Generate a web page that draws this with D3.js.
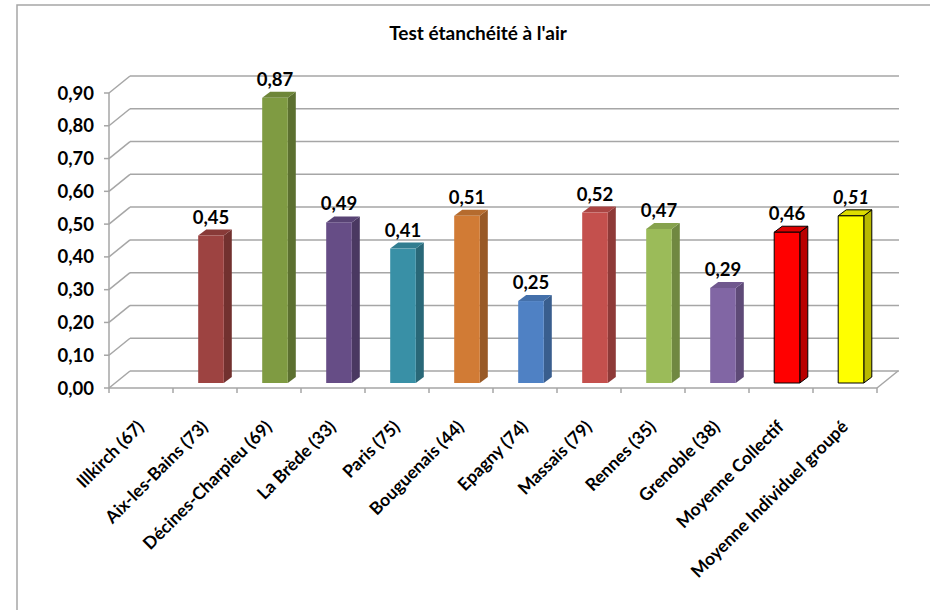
<!DOCTYPE html>
<html>
<head>
<meta charset="utf-8">
<script src="https://cdn.jsdelivr.net/npm/d3@7/dist/d3.min.js"></script>
<style>
body { margin: 0; background: #fff; }
svg { font-family: Lato, "Open Sans", sans-serif; font-weight: bold; }
.grid line { stroke: #a6a6a6; stroke-width: 1.5px; }
</style>
</head>
<body>
<svg width="930" height="610"></svg>
<script>
var categories = ["Illkirch (67)", "Aix-les-Bains (73)", "Décines-Charpieu (69)", "La Brède (33)",
  "Paris (75)", "Bouguenais (44)", "Epagny (74)", "Massais (79)", "Rennes (35)",
  "Grenoble (38)", "Moyenne Collectif", "Moyenne Individuel groupé"];
var values = [null, 0.45, 0.87, 0.49, 0.41, 0.51, 0.25, 0.52, 0.47, 0.29, 0.46, 0.51];
var colors = ["#9d4341", "#9d4341", "#7f9b42", "#664d86", "#3990a6", "#d17b35",
  "#4f81c4", "#c4504d", "#9bbb59", "#8166a4", "#ff0000", "#ffff00"];
var yTicks = [0, 0.1, 0.2, 0.3, 0.4, 0.5, 0.6, 0.7, 0.8, 0.9];
var title = "Test étanchéité à l'air";

var fmt = function(v) { return d3.format(".2f")(v).replace(".", ","); };

var svg = d3.select("svg");

// chart border
svg.append("rect").attr("x", 17).attr("y", 5).attr("width", 940).attr("height", 640)
  .attr("fill", "none").attr("stroke", "#a6a6a6").attr("stroke-width", 1.5);

svg.append("text").attr("x", 478).attr("y", 40).attr("text-anchor", "middle")
  .attr("font-size", 19).text(title);

var x = d3.scaleBand().domain(categories).range([109, 877]);
var y = d3.scaleLinear().domain([0, 0.9]).range([388, 93]);
var dx = 21, dy = -17;   // depth of the back wall
var bdx = 6, bdy = -5;   // bar front offset into depth
var sdx = 8, sdy = -6;   // bar depth

var grid = svg.append("g").attr("class", "grid");
yTicks.forEach(function(t) {
  var yy = y(t);
  grid.append("line").attr("x1", 109).attr("y1", yy).attr("x2", 109 + dx).attr("y2", yy + dy);
  grid.append("line").attr("x1", 109 + dx).attr("y1", yy + dy).attr("x2", 877 + dx + 1).attr("y2", yy + dy);
  grid.append("line").attr("x1", 104).attr("y1", yy).attr("x2", 109).attr("y2", yy);
});
grid.append("line").attr("x1", 109).attr("y1", y(0.9)).attr("x2", 109).attr("y2", y(0));
grid.append("line").attr("x1", 109).attr("y1", y(0)).attr("x2", 877).attr("y2", y(0));
grid.append("line").attr("x1", 877).attr("y1", y(0)).attr("x2", 877 + dx).attr("y2", y(0) + dy);
categories.concat([null]).forEach(function(c, i) {
  var xx = c === null ? 877 : x(c);
  grid.append("line").attr("x1", xx).attr("y1", y(0)).attr("x2", xx).attr("y2", y(0) + 5);
});

svg.append("g").selectAll("text").data(yTicks).join("text")
  .attr("x", 94).attr("y", function(d) { return y(d) + 6.5; })
  .attr("text-anchor", "end").attr("font-size", 18.5).text(fmt);

// bars
var bw = x.bandwidth() * 0.4;
var bars = svg.append("g");
categories.forEach(function(c, i) {
  var v = values[i];
  if (v == null) return;
  var x0 = x(c) + x.bandwidth() * 0.3 + bdx;
  var yb = y(0) + bdy, yt = y(v) + bdy;
  var base = d3.color(colors[i]);
  var outline = i >= 10 ? "#000" : "none";
  var g = bars.append("g").attr("stroke", outline).attr("stroke-width", 1).attr("stroke-linejoin", "round");
  g.append("path").attr("fill", base.darker(0.9))
    .attr("d", "M" + (x0 + bw) + "," + yt + "L" + (x0 + bw + sdx) + "," + (yt + sdy) +
      "L" + (x0 + bw + sdx) + "," + (yb + sdy) + "L" + (x0 + bw) + "," + yb + "Z");
  g.append("path").attr("fill", base.darker(0.4))
    .attr("d", "M" + x0 + "," + yt + "L" + (x0 + sdx) + "," + (yt + sdy) +
      "L" + (x0 + bw + sdx) + "," + (yt + sdy) + "L" + (x0 + bw) + "," + yt + "Z");
  g.append("rect").attr("x", x0).attr("y", yt).attr("width", bw).attr("height", yb - yt)
    .attr("fill", base);
  svg.append("text").attr("x", x0 + bw / 2).attr("y", yt - 12)
    .attr("text-anchor", "middle").attr("font-size", 18.5)
    .attr("font-style", i === 11 ? "italic" : "normal").text(fmt(v));
});

// category labels
svg.append("g").selectAll("text").data(categories).join("text")
  .attr("text-anchor", "end").attr("font-size", 17.5)
  .attr("transform", function(d) {
    return "translate(" + (x(d) + x.bandwidth() / 2 + 4) + ",428) rotate(-45)";
  })
  .text(function(d) { return d; });
</script>
</body>
</html>
